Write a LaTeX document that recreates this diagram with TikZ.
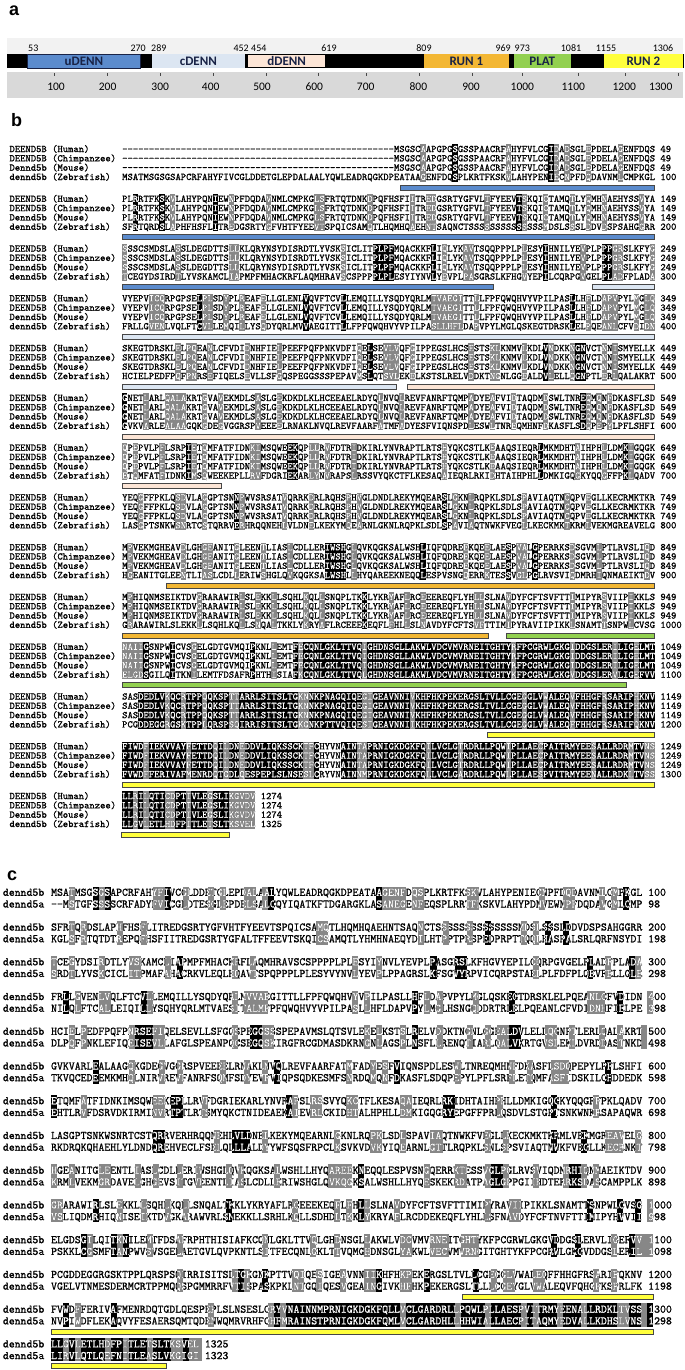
\documentclass[tikz,border=0pt]{standalone}
\usepackage{fontspec}
\newfontfamily\seqfont{Latin Modern Mono}[FakeBold=1]
\newfontfamily\calfont{Carlito}
\newfontfamily\panelfont{Liberation Sans}

\definecolor{udenn}{RGB}{91,139,205}
\definecolor{cdenn}{RGB}{220,230,242}
\definecolor{ddenn}{RGB}{252,229,214}
\definecolor{runone}{RGB}{243,183,52}
\definecolor{platc}{RGB}{146,208,80}
\definecolor{runtwo}{RGB}{255,255,60}
\definecolor{navy}{RGB}{25,35,70}
\definecolor{rulerg}{RGB}{217,217,217}
\definecolor{toplight}{RGB}{242,242,242}
\definecolor{shadeg}{RGB}{135,135,135}
\definecolor{barline}{RGB}{70,70,70}

% column grid of the two alignments
\def\seqbx{122}
\def\seqbw{5.33}
\def\seqcx{50.9}
\def\seqcw{6.025}

\newcommand{\gapdash}[1]{\foreach \i in {1,...,#1}{-}}

% zebrafish dennd5b rows (used in b and c)
\def\zfa{MSATMSGSGSAPCRFAHYFIVCGLDDETGLEPDALAALYQWLEADRQGKDPEATAAGENFDQSPLKRTFKSKVLAHYPENIECNPFDQDAVNMLCMPKGL 100}
\def\zfb{SFRTQRDSLAPHFHSFLITREDGSRTYGFVHTFYEEVTSPQICSAMQTLHQMHQAEHNTSAQNCTSSSSSSSSSSSSSSMDSLSSSLDDVDSPSAHGGRR 200}
\def\zfc{TCEGYDSIRDTLYVSKAMCLIAPMPFMHACKRFLAQMHRAVSCSPPPPLPLESYIYNVLYEVPLPASGRSLKFHGVYEPILCQRPGVGELPLADFPLADA 300}
\def\zfd{FRLLGVENLVQLFTCVLLEMQILLYSQDYQRLMVVAEGITTLLFPFQWQHVYVPILPASLLHFLDAPVPYLMGLQSKEGTDRSKLELPQEANLCFVDIDN 400}
\def\zfe{HCIELPEDFPQFPNRSEFIQELSEVLLSFGQSPEGGSSSPEPAVMSLQTSVLEKELKSTSLRELVDDKTNGNLGGEALDVLELLQGNPTLERLQALAKRT 500}
\def\zff{GVKVARLEALAAGQKGDEGVGGRSPVEEEELRNAKLNVQLREVFAARFATMFADYESFVIQNSPDLESWLTNREQMHNFDKASFLSDQPEPYLPFLSHFI 600}
\def\zfg{ETQMFATFIDNKIMSQWEEKEPLLRVFDGRIEKARLYNVRAPSLRSSVYQKCTFLKESAQAIEQRLRKIDHTAIHPHLLDMKIGQGKYQQGFFPKLQADV 700}
\def\zfh{LASGPTSNKWSNRTCSTQRRVERHRQQNEHLVLDNELKEKYMQEARNLGKNLRQPKLSDLSPAVIAQTNWKFVEGLLKECKMKTKRMLVEKMGREAVELG 800}
\def\zfi{HGEANITGLEENTLIASLCDLLERIWSHGLQVKQGKSALWSHLLHYQAREEKNEQQLESPVSNGQERRKTESSVGLPGLRVSVIQDMRHIQNMAEIKTDV 900}
\def\zfj{GRARAWIRLSLEKKLLSQHLKQLLSNQALTKKLYKRYAFLRCEEEKEQFLFHLLSLNAVDYFCFTSVFTTIMIPYRAVIIPIKKLSNAMTTSNPWLCVSG 1000}
\def\zfk{ELGDSGILQITKNILEMTFDSAFRPHTHISIAFKCQNLGKLTTVQLGHDNSGLLAKWLVDCVMVRNEITGHTYKFPCGRWLGKGVDDGSLERVLIGEFVV 1100}
\def\zfl{PCGDDEGGRGSKTPPLQRSPSQIRRISITSLTGKGNKPTTVQIQESIGEAVNNIIKHFHKPEKERGSLTVLLCGEGGLVWALEQFFHHGFRSARIFQKNV 1200}
\def\zfm{FVWDFFERIVAFMENRDQTGDLQESPEPLSLNSESLCRYVNAINNMPRNIGKDGKFQLLVCLGARDRLLPQWLPLLAESPVITRMYEENALLRDKLTVSS 1300}
\def\zfn{LLGVLETLHDFPITLETSLTKSVEL 1325}

% one block of panel b: index, mammal row, zebrafish row, black runs, grey columns
\newcommand{\bblock}[5]{%
  \pgfmathsetmacro{\yy}{149+49.77*#1}
  \foreach \p/\q in {#4} \fill[hlblack] ({\seqbx+\p*\seqbw},{\yy-4.65}) rectangle ({\seqbx+(\q+1)*\seqbw},{\yy+32.55});
  \foreach \p in {#5} \fill[hlgrey] ({\seqbx+\p*\seqbw},{\yy-4.65}) rectangle ++(\seqbw,37.2);
  \node[bseq] (bn#1h) at (9.3,{\yy+3.1}) {DEEND5B (Human)};
  \node[bseq] (bn#1c) at (9.3,{\yy+12.4}) {DEEND5B (Chimpanzee)};
  \node[bseq] (bn#1m) at (9.3,{\yy+21.7}) {Dennd5b (Mouse)};
  \node[bseq] (bn#1z) at (9.3,{\yy+31}) {dennd5b (Zebrafish)};
  \node[bseq] (bs#1h) at (\seqbx,{\yy+3.1}) {#2};
  \node[bseq] (bs#1c) at (\seqbx,{\yy+12.4}) {#2};
  \node[bseq] (bs#1m) at (\seqbx,{\yy+21.7}) {#2};
  \node[bseq] (bs#1z) at (\seqbx,{\yy+31}) {#3};
  \begin{scope}
    \clip foreach \p/\q in {#4} {({\seqbx+\p*\seqbw},{\yy-4.65}) rectangle ({\seqbx+(\q+1)*\seqbw},{\yy+32.55})}
          foreach \p in {#5} {({\seqbx+\p*\seqbw},{\yy-4.65}) rectangle ++(\seqbw,37.2)};
    \node[bseq,white] (bw#1h) at (\seqbx,{\yy+3.1}) {#2};
    \node[bseq,white] (bw#1c) at (\seqbx,{\yy+12.4}) {#2};
    \node[bseq,white] (bw#1m) at (\seqbx,{\yy+21.7}) {#2};
    \node[bseq,white] (bw#1z) at (\seqbx,{\yy+31}) {#3};
  \end{scope}
}

% one block of panel c: index, dennd5b row, dennd5a row, black runs, grey columns
\newcommand{\cblock}[5]{%
  \pgfmathsetmacro{\yy}{892.3+34.74*#1}
  \foreach \p/\q in {#4} \fill[hlblack] ({\seqcx+\p*\seqcw},{\yy-5.8}) rectangle ({\seqcx+(\q+1)*\seqcw},{\yy+17.5});
  \foreach \p in {#5} \fill[hlgrey] ({\seqcx+\p*\seqcw},{\yy-5.8}) rectangle ++(\seqcw,23.3);
  \node[cseq] (cn#1b) at (2.7,{\yy+3.5}) {dennd5b};
  \node[cseq] (cn#1a) at (2.7,{\yy+15.2}) {dennd5a};
  \node[cseq] (cs#1b) at (\seqcx,{\yy+3.5}) {#2};
  \node[cseq] (cs#1a) at (\seqcx,{\yy+15.2}) {#3};
  \begin{scope}
    \clip foreach \p/\q in {#4} {({\seqcx+\p*\seqcw},{\yy-5.8}) rectangle ({\seqcx+(\q+1)*\seqcw},{\yy+17.5})}
          foreach \p in {#5} {({\seqcx+\p*\seqcw},{\yy-5.8}) rectangle ++(\seqcw,23.3)};
    \node[cseq,white] (cw#1b) at (\seqcx,{\yy+3.5}) {#2};
    \node[cseq,white] (cw#1a) at (\seqcx,{\yy+15.2}) {#3};
  \end{scope}
}

\newcommand{\bbar}[4]{\draw[dombar,fill=#4] (#2,{149+49.77*#1+36}) rectangle (#3,{149+49.77*#1+41});}
\newcommand{\cbar}[4]{\draw[dombar,fill=#4] (#2,{892.3+34.74*#1+19.8}) rectangle (#3,{892.3+34.74*#1+24.8});}

\begin{document}
\begin{tikzpicture}[x=1pt,y=-1pt,
  bseq/.style={anchor=base west,inner sep=0pt,font=\seqfont\fontsize{10.15}{12}\selectfont},
  cseq/.style={anchor=base west,inner sep=0pt,font=\seqfont\fontsize{11.48}{13}\selectfont},
  hlblack/.style={fill=black},
  hlgrey/.style={fill=shadeg},
  dombar/.style={draw=barline,line width=0.6pt},
  dombox/.style={minimum height=14pt,inner sep=0pt,font=\calfont\bfseries\fontsize{13}{13}\selectfont,text=navy},
  toplab/.style={anchor=base,inner sep=0pt,font=\calfont\fontsize{10}{10}\selectfont},
  rulnum/.style={anchor=base,inner sep=0pt,font=\calfont\fontsize{11.5}{11.5}\selectfont},
  panel/.style={anchor=base west,inner sep=0pt,font=\panelfont\bfseries\fontsize{18}{18}\selectfont}]
\useasboundingbox[fill=white] (0,0) rectangle (685,1370);

% ---- a: domain map
\node[panel] (pa) at (9,16) {a};
\fill[toplight] (7,38) rectangle (683,54);
\fill[black] (7,54) rectangle (684,68);
\node[dombox,fill=udenn,draw=navy,line width=0.6pt,minimum width=113.3pt] (udenn) at (83.9,61) {uDENN};
\node[dombox,fill=cdenn,minimum width=92.2pt] (cdenn) at (198.4,61) {cDENN};
\node[dombox,fill=ddenn,draw=black,line width=1.3pt,minimum width=78pt,minimum height=13pt] (ddenn) at (286.7,61) {dDENN};
\node[dombox,fill=runone,minimum width=85.6pt] (run1) at (466.4,61) {RUN 1};
\node[dombox,fill=platc,minimum width=57.1pt] (plat) at (542.2,61) {PLAT};
\node[dombox,fill=runtwo,minimum width=79.4pt] (run2) at (643.3,61) {RUN 2};
\node[toplab,anchor=base west] (l53) at (28,51.5) {53};
\node[toplab,anchor=base east] (l270) at (146,51.5) {270};
\node[toplab,anchor=base west] (l289) at (151,51.5) {289};
\node[toplab,anchor=base east] (l452) at (249,51.5) {452};
\node[toplab,anchor=base west] (l454) at (251,51.5) {454};
\node[toplab] (l619) at (329,51.5) {619};
\node[toplab] (l809) at (424,51.5) {809};
\node[toplab,anchor=base east] (l969) at (511,51.5) {969};
\node[toplab,anchor=base west] (l973) at (514.5,51.5) {973};
\node[toplab] (l1081) at (571,51.5) {1081};
\node[toplab] (l1155) at (606,51.5) {1155};
\node[toplab] (l1306) at (663,51.5) {1306};
\fill[rulerg] (7,72) rectangle (683,98);
\foreach \t in {54,107.6,160.2,213.8,266.5,318.3,366.6,419.2,472,522.4,578.6,625.6,678}
  \draw[barline,line width=0.7pt] (\t,73.5) -- (\t,76.5);
\foreach \v/\t in {100/56,200/107.6,300/160.2,400/210.7,500/262,600/314.3,700/365.7,800/418.4,900/471,1000/522.4,1100/573.3,1200/624.3,1300/660.7}
  \node[rulnum] (r\v) at (\t,91) {\v};

% ---- b: alignment of four species
\node[panel] (pb) at (11,127) {b};
\bblock{0}{\gapdash{51}MSGSCAAPGPGSGSSPAACRFAHYFVLCGIDADSGLEPDELAGENFDQS 49}{\zfa}{62/62,80/80}{56,72,81,83,87,93}
\bblock{1}{PLRRTFKSKVLAHYPQNIEWNPFDQDAVNMLCMPKGLSFRTQTDNKDPQFHSFIITREDGSRTYGFVLTFYEEVTSKQICTAMQTLYQMHNAEHYSSVYA 149}{\zfb}{2/2,7/7,17/17,74/74}{9,20,27,36,37,46,54,57,58,68,75,79,84,87,90,97}
\bblock{2}{SSSCSMDSLASSLDEGDTTSLLKLQRYNSYDISRDTLYVSKSICLITPLPFMQACKKFLIQLYKAVTSQQPPPLPLESYIHNILYEVPLPPPGRSLKFYG 249}{\zfc}{47/50,58/58,79/79,90/91}{0,10,20,21,41,60,64,65,75,86,92,93,99}
\bblock{3}{VYEPVICQRPGPSELPLSDYPLREAFELLGLENLVQVFTCVLLEMQILLYSQDYQRLMTVAEGITTLLFPFQWQHVYVPILPASLLHFLDAPVPYLMGLQ 349}{\zfd}{14/14,34/34,41/41,84/84}{5,6,7,15,16,19,22,26,58,59,60,61,62,63,66,87,90,91,92,96,98,99}
\bblock{4}{SKEGTDRSKLELPQEANLCFVDIDNHFIELPEEFPQFPNKVDFIQELSEVLVQFGIPPEGSLHCSESTSKLKNMVLKDLVNDKKNGNVCTNNISMYELLK 449}{\zfe}{46/46,79/79,85/86}{10,12,13,16,23,29,44,49,50,51,54,65,69,70,75,80,84,90,92}
\bblock{5}{GNETLARLQALAKRTGVAVEKMDLSASLGEKDKDLKLHCEEAELRDYQLNVQLREVFANRFTQMPADYEAFVIDTAQDMDSWLTNREQMQNFDKASFLSD 549}{\zff}{0/0,86/86}{4,8,9,10,11,15,18,25,29,48,52,65,69,73,79,87,89,91}
\bblock{6}{QPEPVLPFLSRPIETQMFATFIDNKIMSQWEEKQPLLRVFDTRIDKIRLYNVRAPTLRTSHYQKCSTLKEAAQSIEQRLMKMDHTAIHPHLLDMKIGQGK 649}{\zfg}{12/12,31/32,78/78,94/94}{0,2,7,13,15,24,25,35,36,38,43,60,69,85,90,95}
\bblock{7}{YEQGFFPKLQSDVLAGGPTSNNPWVSRSATVQRRKDRLRQHSPHVGLDNDLREKYMQEARSLGKNLRQPKLSDLSPAVIAQTNCQPVEGLLKECRMKTKR 749}{\zfh}{21/21,60/60}{3,10,11,15,22,30,35,42,44,62,65,75,83,87}
\bblock{8}{MPVEKMGHEAVDLGHGEANITGLEENTLIASLCDLLERIWSHGLQVKQGKSALWSHLIQFQDREEKQEELAESPVALGPERRKSDSGVMLPTLRVSLIQD 849}{\zfi}{38/41,56/56,72/72,77/77}{1,11,15,16,21,26,31,43,64,68,74,75,84,89,98}
\bblock{9}{MPHIQNMSEIKTDVGRARAWIRLSLEKKLLSQHLKQLLSNQPLTKKLYKRYAFLRCEEEREQFLYHLLSLNAVDYFCFTSVFTTIMIPYRSVIIPIKKLS 949}{\zfj}{45/45}{1,14,22,25,28,34,37,50,53,56,66,67,72,84,90,95}
\bblock{10}{NAIIGSNPWICVSGELGDTGVMQIPKNLLEMTFECQNLGKLTTVQIGHDNSGLLAKWLVDCVMVRNEITGHTYRFPCGRWLGKGIDDGSLERILIGELMT 1049}{\zfk}{4/4,9/9,24/24,32/32,34/99}{0,1,2,3,13,28,33,45,73,84,92,96}
\bblock{11}{SASDEDLVKQCRTPPQQKSPTTARRLSITSLTGKNNKPNAGQIQEGIGEAVNNIVKHFHKPEKERGSLTVLLCGEGGLVWALEQVFHHGFRSARIPHKNV 1149}{\zfl}{3/99}{8,11,15,20,21,33,34,45,46,54,75,79,84,90,96}
\bblock{12}{FIWDFIEKVVAYFETTDQILDNEDDVLIQKSSCKTFCHYVNAINTAPRNIGKDGKFQILVCLGTRDRLLPQWIPLLAECPAITRMYEESALLRDRMTVNS 1249}{\zfm}{0/36,41/99}{4,12,17,19,22,34,35,44,45,57,63,72,78,88,95,98,99}
\bblock{13}{LLRILQTICDPTIVLEGSLIKGVDV 1274}{\zfn}{0/1,3/3,5/7,10/11,13/15,17/19}{2,4,8,9,12,16,20,21,22,23,24}
% domain bars under the blocks
\bbar{0}{400}{654}{udenn}
\bbar{1}{122}{654}{udenn}
\bbar{2}{122}{493}{udenn}
\bbar{2}{592}{654}{cdenn}
\bbar{3}{122}{654}{cdenn}
\bbar{4}{122}{396}{cdenn}
\bbar{4}{407}{654}{ddenn}
\bbar{5}{122}{654}{ddenn}
\bbar{6}{122}{221}{ddenn}
\bbar{8}{166}{654}{runone}
\bbar{9}{122}{488}{runone}
\bbar{9}{506}{654}{platc}
\bbar{10}{122}{626}{platc}
\bbar{11}{487}{654}{runtwo}
\bbar{12}{122}{654}{runtwo}
\bbar{13}{121}{229}{runtwo}

% ---- c: dennd5b against dennd5a
\node[panel] (pc) at (7,880) {c};
\cblock{0}{\zfa}{\gapdash{2}MSTGFSSSSCRFADYFVICGLDTESGLEPDELSALCQYIQATKFTDGARGKLASANEGENFEQSPLRRTFKSKVLAHYPDNVEWNPFDQDAVGMLCMP 98}{7/7,9/9,19/19,36/36,54/54,95/95}{3,8,17,18,22,26,28,32,33,35,55,56,57,58,60,61,69,70,81,85,86,91,93}
\cblock{1}{\zfb}{KGLSFRTQTDTREPQFHSFIITREDGSRTYGFALTFFEEVTSKQICSAMQTLYHMHNAEQYDILHTPPTPRSPEDPRPTTQQLHASPALSRLQRFNSYDI 198}{72/72,82/82,85/85}{3,5,11,15,44,45,61,65,69,78,80}
\cblock{2}{\zfc}{SRDTLYVSKCICLITPMAFAHACRKVLEQLHQAVTSPQPPPLPLESYVYNVLYEVPLPPAGRSLKFSGVYRPVICQRPSTAELPLFDFPLQEVFELLGLE 298}{21/21,63/63,67/68,89/89,96/96}{0,3,8,13,14,19,30,33,50,54,80,92,97}
\cblock{3}{\zfd}{NILQLFTCALLEIQILLYSQHYQRLMTVAESITALMFPFQWQHVYVPILPASLLHFLDAPVPYLMGLHSNGQDDRTRLELPQEANLCFVDIDNHFIELPE 398}{2/2,15/15,60/60,76/76,94/94}{4,8,9,16,30,32,33,34,35,50,52,62,64,70,89,90,91,99}
\cblock{4}{\zfe}{DLPQFPNKLEFIQEISEVLLAFGLSPEANPQCSEGQSKIRGFRCGDMASDKRNGNLAGSPLNSFLLRENQTIARLQALVKRTGVSLEKLDVRDDASTNKD 498}{14/16,33/34,60/60,76/77}{3,5,13,17,18,30,35,36,52,54,58,64,69,72,74,75,82,83,86,91,94,98}
\cblock{5}{\zff}{TKVQCEDEEMKMHQLNIRVREVFANRFSQMFSDYEVFVIQPSQDKESMFSNRDQMQNFDKASFLSDQPEPYLPFLSRFLETQMFASFIDSKILCHDDEDK 598}{7/7,37/37,57/57,92/92}{13,18,21,28,32,35,49,53,55,67,76,79,83,84,85}
\cblock{6}{\zfg}{EHTLRVFDSRVDKIRMINVRTPTLRTSMYQKCTNIDEAEKAIEVRLCKIDHTALHPHLLDMKIGQGRYEPGFFPRLQSDVLSTGPTSNKWNKRSAPAQWR 698}{0/0,20/21,39/39,65/66,83/83}{5,17,18,25,40,43,44,49,50,58,59,74,90}
\cblock{7}{\zfh}{RKDRQKQHAEHLYLDNDQREHVECLFSELQLLLALDYYWFSQSFRPCLKSVKVDVKYIQEARNLGTTLRQPKLSNLSPSVIAQTNWKFVEGLLKECRNKT 798}{17/18,30/32,83/83,88/88}{27,35,47,53,54,58,63,64,72,75,92,93,94,97}
\cblock{8}{\zfi}{KRMLVEKMGRDAVELGHGEVSITGVEENTLIASLCDLLERIWSHGLQVKQGKSALWSHLLHYQESKEKRDATPAGLGPPGIIHDTERRKSDASCAMPPLK 898}{51/51,73/74,86/87}{0,3,8,9,14,17,21,24,29,31,37,46,47,48,49,62,67,68,72,75,80,85,88,90}
\cblock{9}{\zfj}{VSLIQDMRHIQNISEIKTDVGKARAWVRLSMEKKLLSRHLKQLLSDHDLTKKLYKRYAFLRCDDEKEQFLYHLLSFNAVDYFCFTNVFTTIMIPYHVVII 998}{7/7,29/29,51/51,89/89,94/94,97/97}{0,1,11,15,19,22,40,47,49,52,57,72,76,77,99}
\cblock{10}{\zfk}{PSKKLCGSMFTANPWVSVSGELAETGVLQVPKNTLSITFECQNLGKLTTVQMGHDNSGLYAKWLVECVMVRNGITGHTYKFPCGRWLGKGVDDGSLERIL 1098}{5/5,10/10,12/12,83/83,87/87,96/96}{6,11,16,21,35,43,47,52,58,59,63,64,65,68,69,70,93,97,98,99}
\cblock{11}{\zfl}{VGELVTNMESDERMCRTPPMQQSPGMMRRFVTISPASKPKLNTGQIQESVGEAINGIVKHFHKPEKERGSLTLLLCGEYGLVWALEQVFQHGFKSPRLFK 1198}{31/31,35/35,54/54,62/62,70/70}{21,30,32,40,41,44,48,52,53,58,59,73,75,76,80,81,90,93}
\cblock{12}{\zfm}{NVPIWDFLEKAQVYFESAERSQMTQDENWQMRVRHFCHFMRAINSTPRNIGKDGKFQMLVCLGARDHLLHHWIALLAECPITAQMYEDVALLKDHSLVNS 1298}{2/2,10/10,36/99}{4,26,36,38,58,67,72,78,80,84,88,94,95,98}
\cblock{13}{\zfn}{LIRVLQTLQEFNITLEASLVKGIGI 1323}{0/1,3/3,5/8,10/11,13/15,17/19,22/22}{2,4,9,12,16,20,21,23,24}
\cbar{11}{462}{653}{runtwo}
\cbar{12}{51}{653}{runtwo}
\cbar{13}{51}{166}{runtwo}
\end{tikzpicture}
\end{document}
